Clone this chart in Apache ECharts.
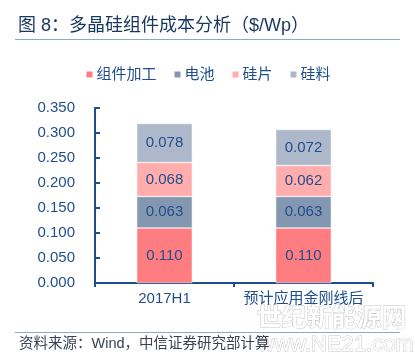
<!DOCTYPE html>
<html><head><meta charset="utf-8">
<script src="https://cdn.jsdelivr.net/npm/echarts@6/dist/echarts.min.js"></script>
<style>html,body{margin:0;padding:0;background:#fff}#c{width:415px;height:355px}</style>
</head><body><div id="c"></div>
<script>
var categories = ['2017H1', '预计应用金刚线后'];
var seriesNames = ['组件加工', '电池', '硅片', '硅料'];
var processing = [0.110, 0.110];
var cell = [0.063, 0.063];
var wafer = [0.068, 0.062];
var polysilicon = [0.078, 0.072];
var yTicks = ['0.000','0.050','0.100','0.150','0.200','0.250','0.300','0.350'];
var colors = ['#ff7c80', '#8497b0', '#ffadad', '#adb9ca'];
var values = [processing, cell, wafer, polysilicon];
var txt = '#1f4e8c';
var font = '"Liberation Sans", Arial, "Noto Sans CJK SC", sans-serif';

var chart = echarts.init(document.getElementById('c'), null, {renderer: 'canvas'});
var series = seriesNames.map(function (n, i) {
  return {
    name: n, type: 'bar', stack: 'total', barWidth: '40%',
    data: values[i],
    itemStyle: {color: colors[i], borderColor: '#ffffff', borderWidth: 0.5},
    label: {show: true, position: 'inside', color: txt, fontSize: 15, fontFamily: font,
      formatter: function (p) { return p.value.toFixed(3); }}
  };
});
chart.setOption({
  animation: false,
  textStyle: {fontFamily: font},
  legend: {
    top: 62, left: 'center', itemWidth: 8, itemHeight: 8, itemGap: 16,
    icon: 'rect',
    textStyle: {color: txt, fontSize: 15, fontFamily: font, padding: [0, 0, 0, -2]},
    data: seriesNames
  },
  grid: {left: 95, right: 42, top: 108, bottom: 72, containLabel: false},
  xAxis: {
    type: 'category', data: categories,
    axisLine: {lineStyle: {color: txt, width: 2}},
    axisTick: {show: true, inside: false, length: 4, lineStyle: {color: txt, width: 2}},
    axisLabel: {color: txt, fontSize: 15, margin: 8, fontFamily: font, interval: 0}
  },
  yAxis: {
    type: 'value', min: 0, max: 0.35, interval: 0.05,
    splitLine: {show: false},
    axisLine: {show: true, lineStyle: {color: txt, width: 2}},
    axisTick: {show: true, inside: true, length: 5, lineStyle: {color: txt, width: 2}},
    axisLabel: {color: txt, fontSize: 15, margin: 20, fontFamily: font,
      formatter: function (v) { return yTicks[Math.round(v / 0.05)]; }}
  },
  graphic: [
    {type: 'text', left: 18, top: 17, style: {text: '图 8：多晶硅组件成本分析（$/Wp）', fill: '#17375e', font: '18px ' + font}},
    {type: 'line', shape: {x1: 15, y1: 39.5, x2: 400, y2: 39.5}, style: {stroke: '#8ea9c8', lineWidth: 1}},
    {type: 'text', left: 256, top: 303, z: 0, style: {text: '世纪新能源网', fill: '#ffffff', stroke: '#c8c8c8', lineWidth: 1, font: 'bold 25px "Noto Sans CJK SC", sans-serif'}},
    {type: 'text', left: 258, top: 333, z: 0, style: {text: 'www.NE21.com', fill: '#ffffff', stroke: '#c8c8c8', lineWidth: 1, font: '22px ' + font}},
    {type: 'line', shape: {x1: 15, y1: 332.5, x2: 400, y2: 332.5}, style: {stroke: '#8ea9c8', lineWidth: 1}},
    {type: 'text', left: 19, top: 337, style: {text: '资料来源：Wind，中信证券研究部计算', fill: '#3a4150', font: '14.5px ' + font}}
  ],
  series: series
});
</script></body></html>
